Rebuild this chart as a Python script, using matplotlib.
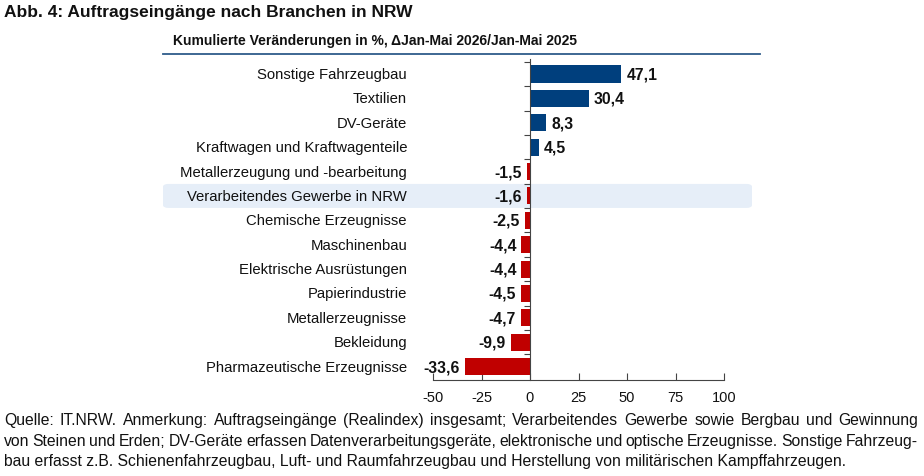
import matplotlib
matplotlib.use("Agg")
import matplotlib.pyplot as plt
from matplotlib.patches import FancyBboxPatch
from matplotlib.lines import Line2D

categories = ["Sonstige Fahrzeugbau", "Textilien", "DV-Geräte", "Kraftwagen und Kraftwagenteile",
              "Metallerzeugung und -bearbeitung", "Verarbeitendes Gewerbe in NRW", "Chemische Erzeugnisse",
              "Maschinenbau", "Elektrische Ausrüstungen", "Papierindustrie", "Metallerzeugnisse",
              "Bekleidung", "Pharmazeutische Erzeugnisse"]
values = [47.1, 30.4, 8.3, 4.5, -1.5, -1.6, -2.5, -4.4, -4.4, -4.5, -4.7, -9.9, -33.6]
highlight = "Verarbeitendes Gewerbe in NRW"
xticks = [-50, -25, 0, 25, 50, 75, 100]

title = "Abb. 4: Auftragseingänge nach Branchen in NRW"
subtitle = "Kumulierte Veränderungen in %, ΔJan-Mai 2026/Jan-Mai 2025"
footnote_lines = [
    "Quelle: IT.NRW. Anmerkung: Auftragseingänge (Realindex) insgesamt; Verarbeitendes Gewerbe sowie Bergbau und Gewinnung",
    "von Steinen und Erden; DV-Geräte erfassen Datenverarbeitungsgeräte, elektronische und optische Erzeugnisse. Sonstige Fahrzeug-",
    "bau erfasst z.B. Schienenfahrzeugbau, Luft- und Raumfahrzeugbau und Herstellung von militärischen Kampffahrzeugen.",
]

BLUE = "#003f7d"
RED = "#c00000"
W, H = 924, 477
SANS = ["Liberation Sans", "DejaVu Sans"]

fig = plt.figure(figsize=(W / 100, H / 100), dpi=100)
ax = fig.add_axes([433 / W, 1 - 381 / H, 291 / W, (381 - 60.4) / H])

ypos = list(range(len(categories)))
colors = [BLUE if v >= 0 else RED for v in values]
ax.barh(ypos, values, height=0.7, color=colors, zorder=3)
ax.set_xlim(-50, 100)
ax.set_ylim(len(categories) - 0.45, -0.6)
fig.canvas.draw()

for y, v, c in zip(ypos, values, categories):
    lab = f"{v:.1f}".replace(".", ",")
    if v >= 0:
        ax.annotate(lab, (v, y), xytext=(5, 0), textcoords="offset pixels", ha="left", va="center",
                    fontsize=11.3, fontweight="bold", family=SANS, color="#111111", zorder=4)
    else:
        ax.annotate(lab, (v, y), xytext=(-5, 0), textcoords="offset pixels", ha="right", va="center",
                    fontsize=11.3, fontweight="bold", family=SANS, color="#111111", zorder=4)
    ax.annotate(c, (0, y), xycoords=("axes fraction", "data"), xytext=(-26, 0), textcoords="offset pixels",
                ha="right", va="center", fontsize=10.7, family=SANS, color="#111111", zorder=4)
    if c == highlight:
        yb = ax.transData.transform((0, y))[1]
        band = FancyBboxPatch((163 / W, (yb - 12) / H), (752 - 163) / W, 24 / H,
                              boxstyle="round,pad=0,rounding_size=0.006", transform=fig.transFigure,
                              facecolor="#e6eef8", edgecolor="none", zorder=0, clip_on=False)
        ax.add_patch(band)

for s in ["top", "right"]:
    ax.spines[s].set_visible(False)
ax.spines["left"].set_position(("data", 0))
ax.spines["left"].set_color("#444444")
ax.spines["left"].set_zorder(5)
ax.spines["bottom"].set_color("#444444")
ax.set_yticks([y + 0.5 for y in ypos[:-1]] + [-0.5])
ax.set_yticklabels([])
ax.tick_params(axis="y", direction="out", length=4, color="#444444")
ax.set_xticks(xticks)
ax.set_xticklabels([str(t) for t in xticks], fontsize=10.5, family=SANS, color="#111111")
ax.tick_params(axis="x", direction="in", length=5, color="#444444", pad=7)
ax.patch.set_alpha(0)

fig.text(4 / W, 1 - 13 / H, title, fontsize=12.5, fontweight="bold", family=SANS, va="center", ha="left", color="#111111")
fig.text(173 / W, 1 - 41 / H, subtitle, fontsize=10, fontweight="bold", family=SANS, va="center", ha="left", color="#111111")
fig.add_artist(Line2D([163 / W, 760 / W], [1 - 55 / H, 1 - 55 / H], transform=fig.transFigure, color="#2e5c8a", lw=1.3))

# justified footnote
renderer = fig.canvas.get_renderer()
x0, x1 = 4, 918
line_base = [425, 446, 466]
FS = 11.3
for i, (line, ly) in enumerate(zip(footnote_lines, line_base)):
    if i == len(footnote_lines) - 1:
        fig.text(x0 / W, 1 - ly / H, line, fontsize=FS, family=SANS, va="baseline", ha="left", color="#111111")
        continue
    words = line.split(" ")
    texts, widths = [], []
    for wd in words:
        t = fig.text(0, 1 - ly / H, wd, fontsize=FS, family=SANS, va="baseline", ha="left", color="#111111")
        widths.append(t.get_window_extent(renderer).width)
        texts.append(t)
    gap = (x1 - x0 - sum(widths)) / (len(words) - 1)
    x = x0
    for t, wdt in zip(texts, widths):
        t.set_x(x / W)
        x += wdt + gap

fig.savefig("out.png", dpi=100)
